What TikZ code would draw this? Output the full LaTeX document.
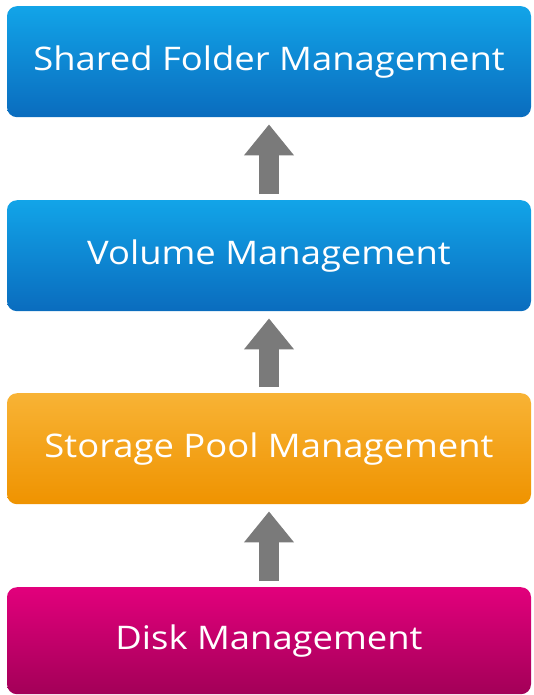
\documentclass[tikz,border=0pt]{standalone}
\usepackage{fontspec}
\setmainfont{Open Sans}[FakeStretch=1.12]
\usetikzlibrary{arrows.meta}
\definecolor{blueTop}{HTML}{12A4E8}
\definecolor{blueBot}{HTML}{0A6CBE}
\definecolor{orTop}{HTML}{F8B335}
\definecolor{orBot}{HTML}{EF9300}
\definecolor{mgTop}{HTML}{E2007C}
\definecolor{mgBot}{HTML}{A30058}
\definecolor{arrGray}{HTML}{7A7A7A}
\tikzset{
  layerbox/.style={rounded corners=10pt, minimum width=524pt, minimum height=111pt,
    inner sep=0pt, text=white, font=\fontsize{32.5}{38}\selectfont, anchor=north},
  bluebox/.style={layerbox, top color=blueTop, bottom color=blueBot},
  orangebox/.style={layerbox, top color=orTop, bottom color=orBot},
  magentabox/.style={layerbox, top color=mgTop, bottom color=mgBot},
  uparrow/.style={draw=arrGray, line width=20pt,
    -{Triangle[width=48pt,length=31pt]}, shorten <=6pt, shorten >=7pt}
}
\begin{document}
\begin{tikzpicture}[x=1pt,y=-1pt]
\useasboundingbox (0,0) rectangle (533,695);
\node[bluebox] (shared) at (269,6) {Shared Folder Management};
\node[bluebox] (volume) at (269,200) {Volume Management};
\node[orangebox] (pool) at (269,393) {Storage Pool Management};
\node[magentabox, minimum height=107pt] (disk) at (269,587) {Disk Management};
\draw[uparrow] (volume.north) -- (shared.south);
\draw[uparrow] (pool.north) -- (volume.south);
\draw[uparrow] (disk.north) -- (pool.south);
\end{tikzpicture}
\end{document}
